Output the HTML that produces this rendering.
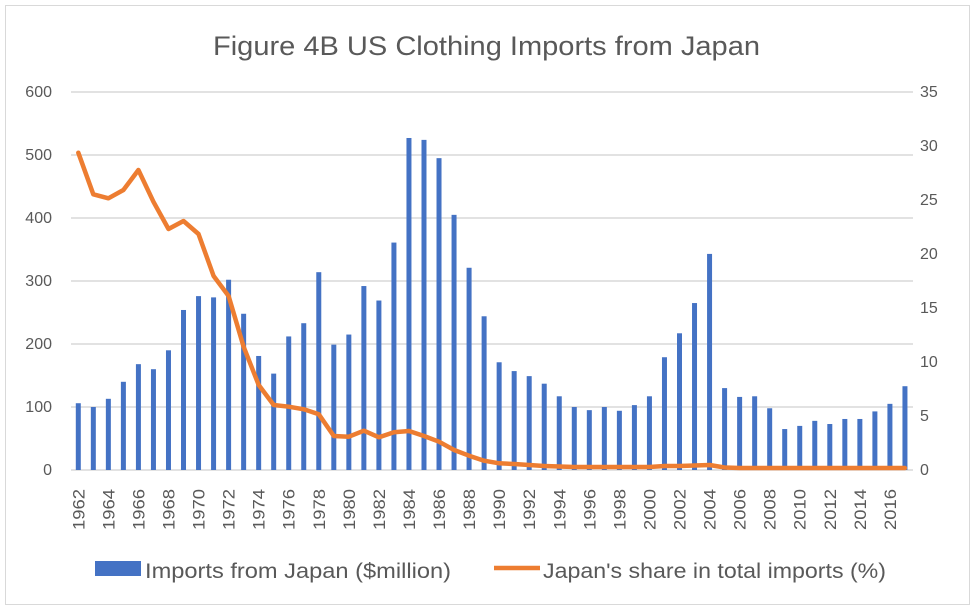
<!DOCTYPE html>
<html><head><meta charset="utf-8"><style>
body{margin:0;background:#fff}
svg{display:block;font-family:"Liberation Sans",sans-serif}
</style></head><body>
<svg width="977" height="612" viewBox="0 0 977 612">
<rect x="5.5" y="5.5" width="964" height="599" fill="#fff" stroke="#d9d9d9"/>
<text x="213" y="55" textLength="547" lengthAdjust="spacingAndGlyphs" font-size="27" fill="#595959">Figure 4B US Clothing Imports from Japan</text>
<g stroke="#d9d9d9" stroke-width="1.5">
<line x1="71" x2="913" y1="92" y2="92"/><line x1="71" x2="913" y1="155" y2="155"/>
<line x1="71" x2="913" y1="218" y2="218"/><line x1="71" x2="913" y1="281" y2="281"/>
<line x1="71" x2="913" y1="344" y2="344"/><line x1="71" x2="913" y1="407" y2="407"/>
<line x1="71" x2="913" y1="470" y2="470"/>
</g>
<g font-size="16" fill="#595959" text-anchor="end">
<text x="52" y="97">600</text><text x="52" y="160">500</text><text x="52" y="223">400</text>
<text x="52" y="286">300</text><text x="52" y="349">200</text><text x="52" y="412">100</text><text x="52" y="475">0</text>
</g>
<g font-size="16" fill="#595959">
<text x="920" y="97">35</text><text x="920" y="151">30</text><text x="920" y="205">25</text>
<text x="920" y="259">20</text><text x="920" y="313">15</text><text x="920" y="367">10</text>
<text x="920" y="421">5</text><text x="920" y="475">0</text>
</g>
<g id="bars" fill="#4472c4"></g>
<g id="xl" font-size="17" fill="#595959"></g>
<polyline id="ln" fill="none" stroke="#ed7d31" stroke-width="4.5" stroke-linejoin="round" stroke-linecap="round"/>
<rect x="95" y="561" width="46" height="15" fill="#4472c4"/>
<text x="145" y="578" font-size="21" textLength="306" lengthAdjust="spacingAndGlyphs" fill="#595959">Imports from Japan ($million)</text>
<line x1="494" x2="540" y1="568" y2="568" stroke="#ed7d31" stroke-width="4.5"/>
<text x="543" y="578" font-size="21" textLength="343" lengthAdjust="spacingAndGlyphs" fill="#595959">Japan's share in total imports (%)</text>
</svg>
<script>
var v=[106,100,113,140,168,160,190,254,276,274,302,248,181,153,212,233,314,199,215,292,269,361,527,524,495,405,321,244,171,157,149,137,117,100,95,100,94,103,117,179,217,265,343,130,116,117,98,65,70,78,73,81,81,93,105,133];
var ly=[152.7,194.3,198.3,190,170,201.7,229,221,234,276,296,346.7,385,405,406.7,409.3,414.3,436,436.7,430.7,437.3,432.3,431,436,441.7,450,455.7,460.7,463.3,464,465,466,466.5,467,467,467,467,467,467,466,466,465.5,465,467.5,468,468,468,468,468,468,468,468,468,468,468,468];
var b=document.getElementById('bars'),xl=document.getElementById('xl'),pts=[],ns='http://www.w3.org/2000/svg';
for(var i=0;i<56;i++){var x=78.3+i*15.03,h=v[i]*0.63;
var r=document.createElementNS(ns,'rect');r.setAttribute('x',x-2.5);r.setAttribute('y',470-h);r.setAttribute('width',5);r.setAttribute('height',h);b.appendChild(r);
pts.push(x.toFixed(1)+','+ly[i]);
if(i%2==0){var t=document.createElementNS(ns,'text');t.setAttribute('transform','translate('+(x+6)+',530) rotate(-90)');t.setAttribute('textLength','41');t.setAttribute('lengthAdjust','spacingAndGlyphs');t.textContent=1962+i;xl.appendChild(t);}}
document.getElementById('ln').setAttribute('points',pts.join(' '));
</script>
</body></html>
